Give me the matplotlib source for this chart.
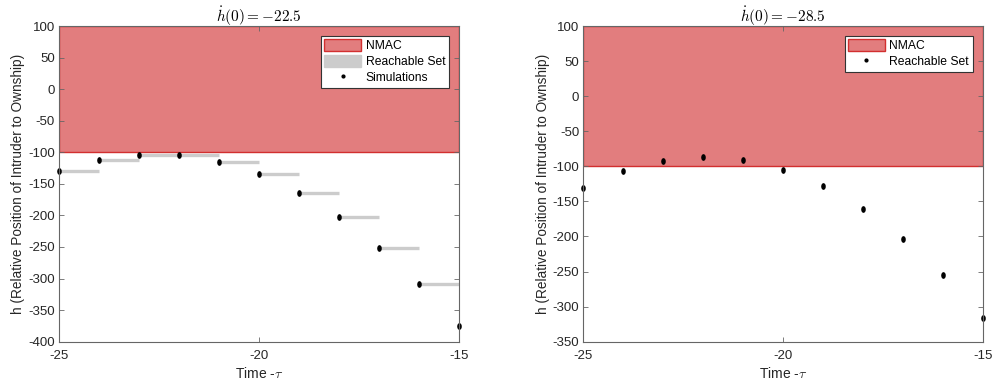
import numpy as np
import matplotlib
matplotlib.use("Agg")
import matplotlib.pyplot as plt
from matplotlib.patches import Patch
from matplotlib.lines import Line2D

plt.rcParams['font.family'] = ['Liberation Sans', 'DejaVu Sans']
plt.rcParams['mathtext.fontset'] = 'cm'
plt.rcParams['axes.unicode_minus'] = False

# time steps (-tau)
t = [-25, -24, -23, -22, -21, -20, -19, -18, -17, -16, -15]

# left panel: hdot(0) = -22.5, simulations
h_left = [-130, -112.7, -104.3, -104.8, -115.4, -134.9, -164.5, -203, -251, -309, -376]
# right panel: hdot(0) = -28.5, reachable set
h_right = [-130.5, -106.7, -92, -86.7, -91.5, -105.3, -128.6, -160.9, -203.2, -255, -315.8]

titles = [r'$\dot{h}(0) = -22.5$', r'$\dot{h}(0) = -28.5$']
ylims = [(-400, 100), (-350, 100)]
nmac_lo, nmac_hi = -100, 100

face = '#E27D7E'
edge = '#D22F2F'
gray = '#CCCCCC'
spine = '#666666'
txt = '#262626'

# small vertical ellipse marker
th = np.linspace(0, 2 * np.pi, 30)
ell = list(zip(0.6 * np.cos(th), np.sin(th)))

fig = plt.figure(figsize=(9.92, 3.83), dpi=100)
ax1 = fig.add_axes([0.0595, 0.108, 0.403, 0.824])
ax2 = fig.add_axes([0.588, 0.108, 0.4026, 0.824])

for i, (ax, h) in enumerate([(ax1, h_left), (ax2, h_right)]):
    ax.axhspan(nmac_lo, nmac_hi, facecolor=face, edgecolor=edge, lw=1.0, zorder=1)
    if i == 0:
        ax.hlines(h[:-1], t[:-1], t[1:], colors=gray, lw=2.4, zorder=2)
    ax.plot(t, h, ls='none', marker=ell, ms=3.8, color='black', zorder=3, clip_on=False)

    ax.set_xlim(-25, -15)
    ax.set_ylim(*ylims[i])
    ax.set_xticks([-25, -20, -15])
    ax.set_yticks(np.arange(ylims[i][0], ylims[i][1] + 1, 50))
    ax.tick_params(direction='in', top=True, right=True, length=3.5, width=0.6,
                   colors=spine, labelcolor=txt, labelsize=9.5)
    ax.tick_params(axis='x', pad=6)
    ax.tick_params(axis='y', pad=3)
    for s in ax.spines.values():
        s.set_color(spine)
        s.set_linewidth(0.8)
        s.set_zorder(4)
    ax.set_xlabel(r'Time -$\tau$', fontsize=10, color=txt, labelpad=3)
    ax.set_ylabel('h (Relative Position of Intruder to Ownship)', fontsize=9.8,
                  color=txt, labelpad=2)
    ax.set_title(titles[i], fontsize=11, pad=3)

# legends
nmac_h = Patch(facecolor=face, edgecolor=edge, lw=1.0)
reach_h = Patch(facecolor=gray, edgecolor=gray)
dot_h = Line2D([], [], ls='none', marker='o', ms=2, color='black')

leg_kw = dict(loc='upper right', bbox_to_anchor=(0.975, 0.97), fontsize=8.7,
              fancybox=False, framealpha=1, edgecolor='#333333', borderpad=0.3,
              handlelength=3.0, handleheight=1.1, handletextpad=0.4,
              labelspacing=0.25, borderaxespad=0)

leg1 = ax1.legend([nmac_h, reach_h, dot_h], ['NMAC', 'Reachable Set', 'Simulations'], **leg_kw)
leg1.get_frame().set_linewidth(0.8)

leg2 = ax2.legend([nmac_h, dot_h], ['NMAC', 'Reachable Set'], **leg_kw)
leg2.get_frame().set_linewidth(0.8)

fig.savefig('out.png', dpi=100)
